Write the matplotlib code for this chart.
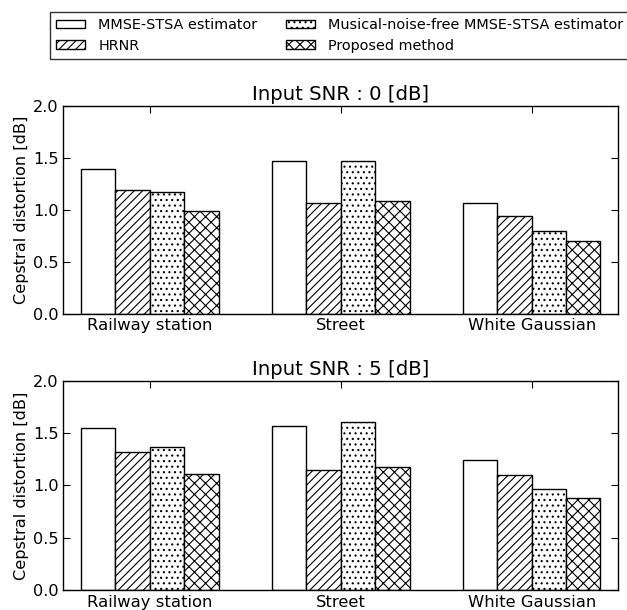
import numpy as np
import matplotlib
matplotlib.use('Agg')
import matplotlib.pyplot as plt

#==============================================================================
# Data
#==============================================================================
noises = ['Railway station', 'Street', 'White Gaussian']
methods = ['MMSE-STSA estimator', 'HRNR',
           'Musical-noise-free MMSE-STSA estimator', 'Proposed method']
hatches = ['', '////', '...', 'xxx']

snr0 = [[1.39, 1.47, 1.06],   # MMSE-STSA
        [1.19, 1.06, 0.94],   # HRNR
        [1.17, 1.47, 0.79],   # musical-noise-free
        [0.99, 1.08, 0.70]]   # proposed
snr5 = [[1.55, 1.57, 1.24],
        [1.32, 1.15, 1.10],
        [1.37, 1.61, 0.97],
        [1.11, 1.18, 0.88]]

#==============================================================================
# Plot
#==============================================================================
plt.rcParams['hatch.linewidth'] = 0.8
plt.rcParams['xtick.direction'] = 'in'
plt.rcParams['ytick.direction'] = 'in'

fig = plt.figure(figsize=(6.27, 6.1), dpi=100)
ax1 = fig.add_axes([0.101, 0.486, 0.885, 0.341])
ax2 = fig.add_axes([0.101, 0.033, 0.885, 0.3426])

ind = np.arange(len(noises))
width = 0.18

handles = []
for ax, data, snr in [(ax1, snr0, 0), (ax2, snr5, 5)]:
    for i in range(4):
        b = ax.bar(ind + (i - 2) * width, data[i], width, align='edge',
                   color='white', edgecolor='black', linewidth=1.0,
                   hatch=hatches[i], label=methods[i])
        if snr == 0:
            handles.append(b)
    ax.set_xlim(-0.453, 2.453)
    ax.set_ylim(0, 2.0)
    ax.set_yticks([0.0, 0.5, 1.0, 1.5, 2.0])
    ax.set_xticks(ind)
    ax.set_xticklabels(noises, fontsize=11.8)
    ax.tick_params(axis='y', labelsize=11.6)
    ax.tick_params(top=True, right=True, length=5, width=0.8)
    ax.set_ylabel('Cepstral distortion [dB]', fontsize=11.6, labelpad=3)
    ax.set_title('Input SNR : %d [dB]' % snr, fontsize=14.2, pad=4)
    for s in ax.spines.values():
        s.set_linewidth(1.0)

leg = fig.legend(handles=handles, labels=methods,
                 loc='upper left', bbox_to_anchor=(0.0797, 0.981), ncol=2,
                 fontsize=10.4, frameon=True, fancybox=False,
                 handlelength=2.0, handleheight=0.5, handletextpad=0.9,
                 columnspacing=2.0, borderpad=0.45, labelspacing=0.45,
                 borderaxespad=0)
leg.get_frame().set_edgecolor('black')
leg.get_frame().set_linewidth(1.0)

fig.savefig('out.png', dpi=100)
